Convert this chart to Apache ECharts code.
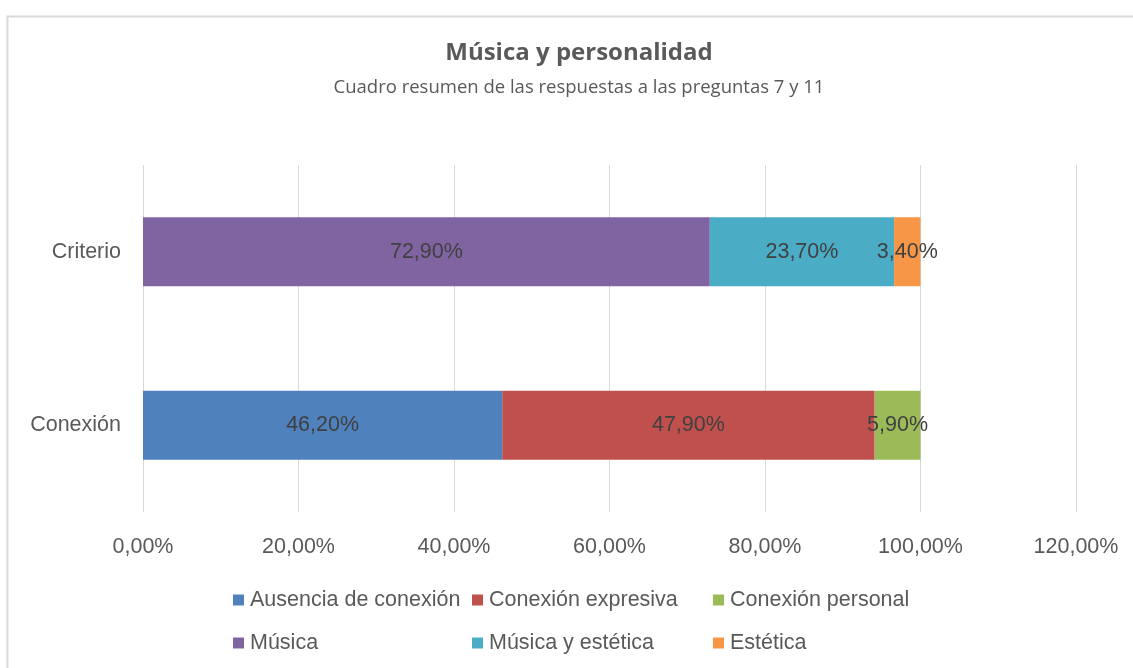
<!DOCTYPE html>
<html><head><meta charset="utf-8">
<script src="https://cdn.jsdelivr.net/npm/echarts@6/dist/echarts.min.js"></script>
<style>html,body{margin:0;padding:0;background:#fff}#c{width:1133px;height:668px}</style>
</head><body><div id="c"></div>
<script>
const categories = ['Conexión', 'Criterio'];
const seriesNames = ['Ausencia de conexión', 'Conexión expresiva', 'Conexión personal', 'Música', 'Música y estética', 'Estética'];
const ausencia = [46.2, null];
const expresiva = [47.9, null];
const personal = [5.9, null];
const musica = [null, 72.9];
const musicaEstetica = [null, 23.7];
const estetica = [null, 3.4];
const xTicks = [0, 20, 40, 60, 80, 100, 120];
const colors = ['#4F81BD', '#C0504D', '#9BBB59', '#8064A2', '#4BACC6', '#F79646'];
const allData = [ausencia, expresiva, personal, musica, musicaEstetica, estetica];

const fmt = v => v.toFixed(2).replace('.', ',') + '%';
const font = 'Liberation Sans, sans-serif';

const legendPos = [[228, 584], [467, 584], [708, 584], [228, 627], [467, 627], [708, 627]];

const chart = echarts.init(document.getElementById('c'));
chart.setOption({
  animation: false,
  color: colors,
  title: [{
    text: 'Música y personalidad',
    left: 579, textAlign: 'center', top: 41, padding: 0,
    textStyle: {fontFamily: 'Open Sans, sans-serif', fontSize: 24, fontWeight: 'bold', color: '#595959'}
  }, {
    text: 'Cuadro resumen de las respuestas a las preguntas 7 y 11',
    left: 579, textAlign: 'center', top: 78, padding: 0,
    textStyle: {fontFamily: 'Open Sans, sans-serif', fontSize: 18.5, fontWeight: 'normal', color: '#595959'}
  }],
  graphic: [{type: 'rect', left: 5, top: 14, shape: {width: 1140, height: 700}, style: {fill: 'none', stroke: '#d9d9d9', lineWidth: 2}}],
  legend: seriesNames.map((n, i) => ({
    data: [n], left: legendPos[i][0], top: legendPos[i][1], itemWidth: 11, itemHeight: 11, itemGap: 4,
    icon: 'rect', textStyle: {fontFamily: font, fontSize: 21.5, color: '#595959', padding: [0, 0, 0, 1]}
  })),
  grid: {left: 143, right: 57, top: 165, bottom: 156},
  xAxis: {
    type: 'value', min: 0, max: 120, interval: 20,
    axisLine: {show: false}, axisTick: {show: false},
    splitLine: {lineStyle: {color: '#d9d9d9', width: 1}},
    axisLabel: {margin: 24, fontFamily: font, fontSize: 21.5, color: '#595959', formatter: v => xTicks.includes(v) ? fmt(v) : ''}
  },
  yAxis: {
    type: 'category', data: categories,
    axisLine: {show: false}, axisTick: {show: false},
    axisLabel: {margin: 22, fontFamily: font, fontSize: 21.5, color: '#595959'}
  },
  series: seriesNames.map((n, i) => ({
    name: n, type: 'bar', stack: 'total', barWidth: 69,
    data: allData[i],
    label: {show: true, position: 'inside', formatter: p => fmt(p.value), fontFamily: font, fontSize: 21.5, color: '#404040'}
  }))
});
</script></body></html>
